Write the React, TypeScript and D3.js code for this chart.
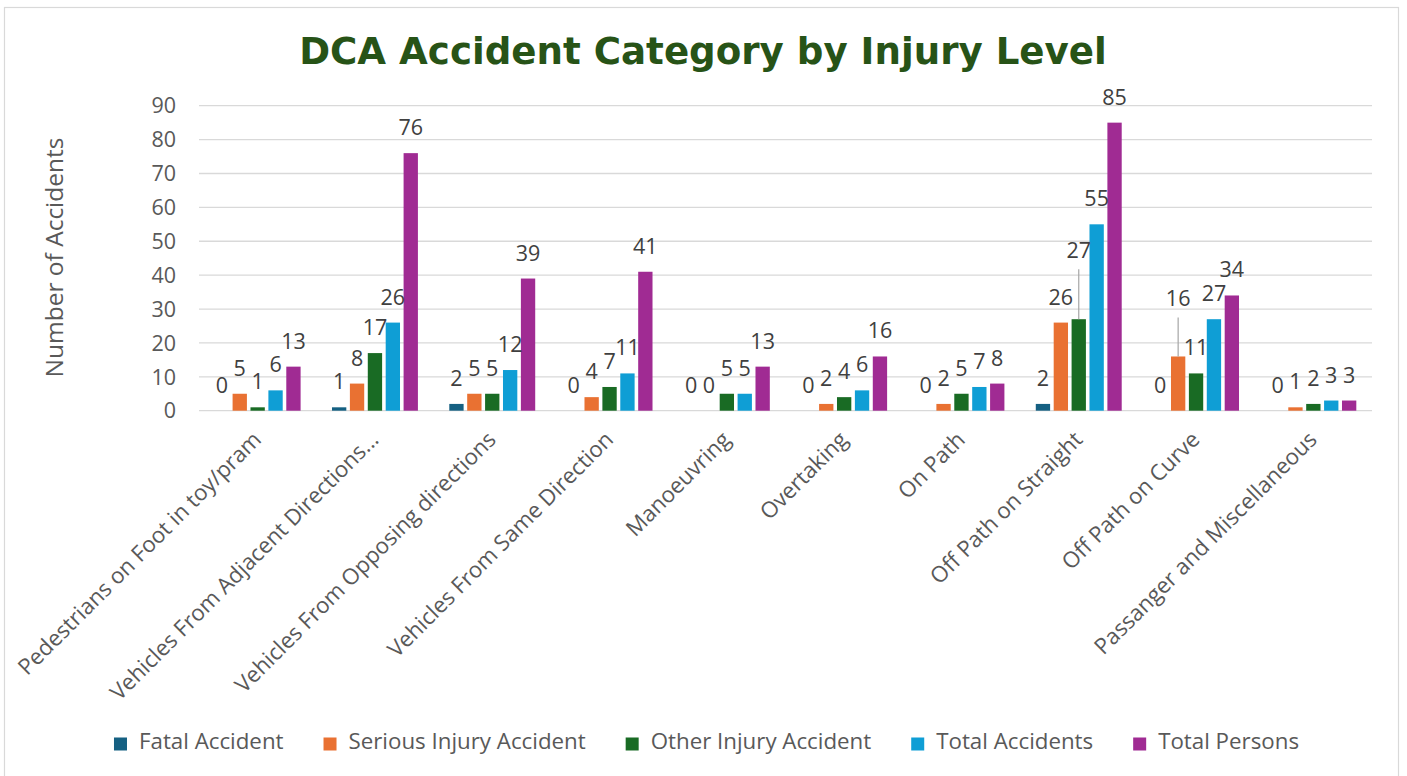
import React, { useEffect, useRef } from "react";
import * as d3 from "d3";

const categories = [
  "Pedestrians on Foot in toy/pram",
  "Vehicles From Adjacent Directions...",
  "Vehicles From Opposing directions",
  "Vehicles From Same Direction",
  "Manoeuvring",
  "Overtaking",
  "On Path",
  "Off Path on Straight",
  "Off Path on Curve",
  "Passanger and Miscellaneous",
];

const seriesNames = [
  "Fatal Accident",
  "Serious Injury Accident",
  "Other Injury Accident",
  "Total Accidents",
  "Total Persons",
];

const fatalAccident = [0, 1, 2, 0, 0, 0, 0, 2, 0, 0];
const seriousInjuryAccident = [5, 8, 5, 4, 0, 2, 2, 26, 16, 1];
const otherInjuryAccident = [1, 17, 5, 7, 5, 4, 5, 27, 11, 2];
const totalAccidents = [6, 26, 12, 11, 5, 6, 7, 55, 27, 3];
const totalPersons = [13, 76, 39, 41, 13, 16, 8, 85, 34, 3];

const seriesValues = [fatalAccident, seriousInjuryAccident, otherInjuryAccident, totalAccidents, totalPersons];
const seriesColors = ["#156082", "#E97132", "#196B24", "#0F9ED5", "#A02B93"];
const yTicks = [0, 10, 20, 30, 40, 50, 60, 70, 80, 90];

// labels lifted away from their bar with a leader line (category index, series index, extra lift px)
const liftedLabels = [
  { cat: 7, ser: 2, lift: 43 },
  { cat: 8, ser: 1, lift: 32 },
];

const W = 1407;
const H = 776;
const FONT = "'Open Sans', 'Liberation Sans', sans-serif";
const TITLE_FONT = "'DejaVu Sans', Verdana, sans-serif";

export default function App() {
  const ref = useRef<SVGSVGElement>(null);

  useEffect(() => {
    const svg = d3.select(ref.current);
    svg.selectAll("*").remove();

    // chart border
    svg.append("rect")
      .attr("x", 4.5).attr("y", 7.5).attr("width", 1394).attr("height", 790)
      .attr("fill", "#ffffff").attr("stroke", "#d9d9d9").attr("stroke-width", 1.2);

    // title
    svg.append("text")
      .attr("x", 703).attr("y", 64)
      .attr("text-anchor", "middle")
      .attr("font-family", TITLE_FONT).attr("font-weight", "bold")
      .attr("font-size", 37.2).attr("fill", "#275317")
      .text("DCA Accident Category by Injury Level");

    const y = d3.scaleLinear().domain([0, 90]).range([410.7, 105.7]);
    const x0 = d3.scaleBand<string>().domain(categories).range([199, 1372]).paddingInner(0.237).paddingOuter(0.1185);
    const x1 = d3.scaleBand<string>().domain(seriesNames).range([0, x0.bandwidth()]).paddingInner(0.2).paddingOuter(0.1);

    // gridlines
    svg.append("g").selectAll("line").data(yTicks).join("line")
      .attr("x1", 199).attr("x2", 1372)
      .attr("y1", (d) => y(d)).attr("y2", (d) => y(d))
      .attr("stroke", "#d9d9d9").attr("stroke-width", 1.3);

    // y tick labels
    svg.append("g").selectAll("text").data(yTicks).join("text")
      .attr("x", 176).attr("y", (d) => y(d)).attr("dy", "0.36em")
      .attr("text-anchor", "end")
      .attr("font-family", FONT).attr("font-size", 21.5).attr("fill", "#595959")
      .text((d) => String(d));

    // y axis title
    svg.append("text")
      .attr("transform", "translate(63,257.5) rotate(-90)")
      .attr("text-anchor", "middle")
      .attr("font-family", FONT).attr("font-size", 24.5).attr("fill", "#595959")
      .text("Number of Accidents");

    // bars
    const gBars = svg.append("g");
    seriesValues.forEach((vals, si) => {
      gBars.append("g").selectAll("rect").data(vals).join("rect")
        .attr("x", (_d, i) => (x0(categories[i]) as number) + (x1(seriesNames[si]) as number))
        .attr("width", x1.bandwidth())
        .attr("y", (d) => y(d))
        .attr("height", (d) => y(0) - y(d))
        .attr("fill", seriesColors[si]);
    });

    // data labels
    const gLabels = svg.append("g");
    seriesValues.forEach((vals, si) => {
      vals.forEach((v, ci) => {
        const cx = (x0(categories[ci]) as number) + (x1(seriesNames[si]) as number) + x1.bandwidth() / 2;
        const lifted = liftedLabels.find((l) => l.cat === ci && l.ser === si);
        const lift = lifted ? lifted.lift : 0;
        const base = y(v) - 18 - lift;
        if (lifted) {
          gLabels.append("line")
            .attr("x1", cx).attr("x2", cx)
            .attr("y1", base + 11).attr("y2", y(v))
            .attr("stroke", "#a6a6a6").attr("stroke-width", 1.2);
        }
        gLabels.append("text")
          .attr("x", cx).attr("y", base)
          .attr("text-anchor", "middle")
          .attr("font-family", FONT).attr("font-size", 21.5).attr("fill", "#404040")
          .text(String(v));
      });
    });

    // category labels
    svg.append("g").selectAll("text").data(categories).join("text")
      .attr("transform", (d) => `translate(${(x0(d) as number) + x0.bandwidth() / 2 + 5},441) rotate(-45)`)
      .attr("text-anchor", "end")
      .attr("font-family", FONT).attr("font-size", 22.2).attr("fill", "#595959")
      .text((d) => d);

    // legend
    const gLeg = svg.append("g");
    const items = seriesNames.map((name, i) => {
      const g = gLeg.append("g");
      g.append("rect").attr("x", 0).attr("y", -11.5).attr("width", 13).attr("height", 13).attr("fill", seriesColors[i]);
      const t = g.append("text").attr("x", 25).attr("y", 0)
        .attr("font-family", FONT).attr("font-size", 22.3).attr("fill", "#595959").text(name);
      const w = (t.node() as SVGTextElement).getComputedTextLength();
      return { g, w: 25 + w };
    });
    const gap = 40;
    const total = items.reduce((s, it) => s + it.w, 0) + gap * (items.length - 1);
    let cur = 706.5 - total / 2;
    items.forEach((it) => {
      it.g.attr("transform", `translate(${cur},749)`);
      cur += it.w + gap;
    });
  }, []);

  return <svg ref={ref} width={W} height={H} style={{ position: "absolute", left: 0, top: 0, display: "block" }} />;
}
